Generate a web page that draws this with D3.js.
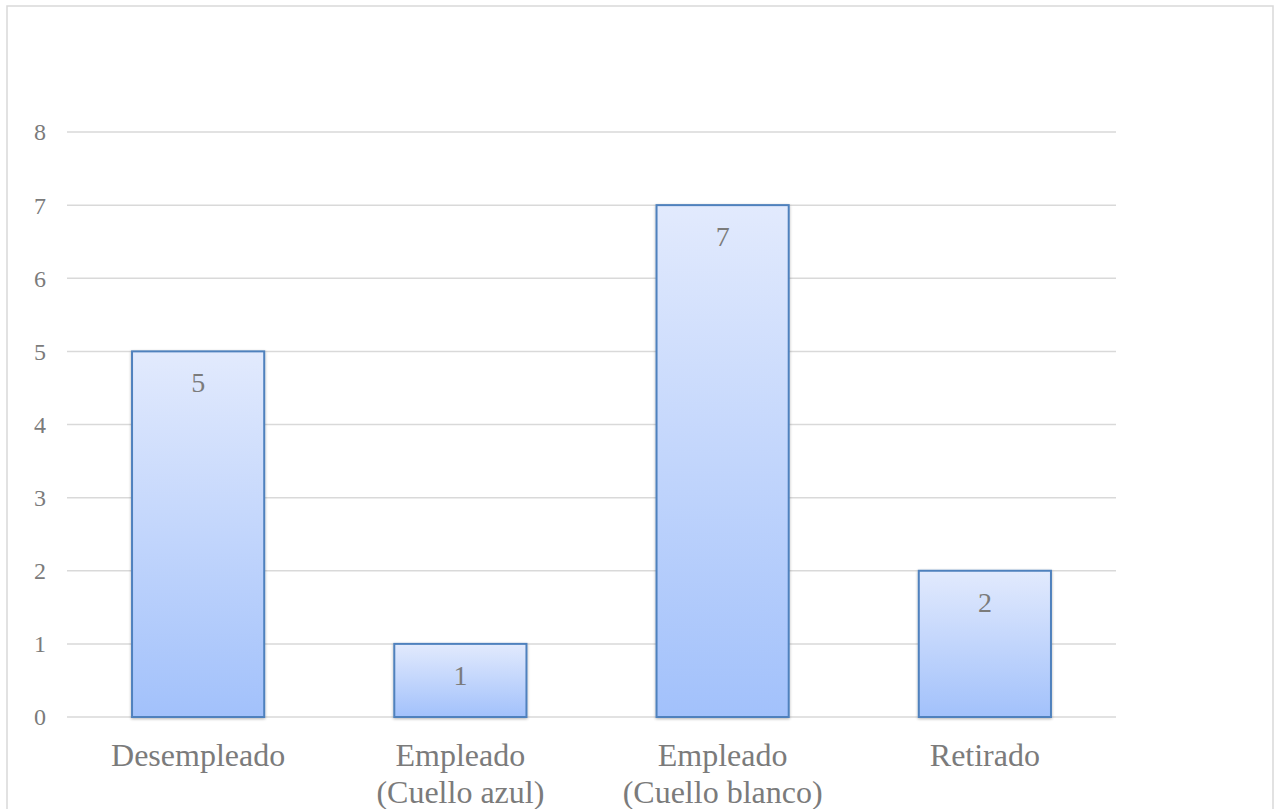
<!DOCTYPE html>
<html>
<head>
<meta charset="utf-8">
<script src="https://cdn.jsdelivr.net/npm/d3@7"></script>
<style>
  html, body { margin: 0; padding: 0; background: #fff; }
  svg { display: block; }
</style>
</head>
<body>
<svg id="chart" width="1274" height="809"></svg>
<script>
// Occupation categories (two-line labels) and counts
const categories = ["Desempleado", "Empleado\n(Cuello azul)", "Empleado\n(Cuello blanco)", "Retirado"];
const counts = [5, 1, 7, 2];
const yTicks = [0, 1, 2, 3, 4, 5, 6, 7, 8];

const FONT = "'Liberation Serif', 'Times New Roman', Times, serif";
const TEXT_COLOR = "#7b7b7b";

const svg = d3.select("#chart");
const plot = { left: 67, right: 1116, top: 132, bottom: 717 };

// Outer frame
svg.append("rect")
  .attr("x", 7).attr("y", 6)
  .attr("width", 1266).attr("height", 820)
  .attr("fill", "#fff")
  .attr("stroke", "#d9d9d9")
  .attr("stroke-width", 1.5);

const defs = svg.append("defs");
const grad = defs.append("linearGradient")
  .attr("id", "barFill").attr("x1", 0).attr("y1", 0).attr("x2", 0).attr("y2", 1);
grad.append("stop").attr("offset", "0%").attr("stop-color", "#e2eafd");
grad.append("stop").attr("offset", "100%").attr("stop-color", "#a2c1fb");

const shadow = defs.append("filter").attr("id", "barShadow")
  .attr("x", "-10%").attr("y", "-10%").attr("width", "120%").attr("height", "120%");
shadow.append("feGaussianBlur").attr("in", "SourceAlpha").attr("stdDeviation", 1.5).attr("result", "b");
shadow.append("feOffset").attr("in", "b").attr("dx", 0).attr("dy", 1).attr("result", "o");
shadow.append("feComponentTransfer").attr("in", "o").attr("result", "s")
  .append("feFuncA").attr("type", "linear").attr("slope", 0.3);
const merge = shadow.append("feMerge");
merge.append("feMergeNode").attr("in", "s");
merge.append("feMergeNode").attr("in", "SourceGraphic");

const x = d3.scaleBand()
  .domain(categories)
  .range([plot.left, plot.right])
  .paddingInner(0.496)
  .paddingOuter(0.248);

const y = d3.scaleLinear()
  .domain([0, 8])
  .range([plot.bottom, plot.top]);

// Horizontal gridlines
svg.append("g")
  .selectAll("line")
  .data(yTicks)
  .join("line")
  .attr("x1", plot.left).attr("x2", plot.right)
  .attr("y1", d => y(d)).attr("y2", d => y(d))
  .attr("stroke", "#d9d9d9")
  .attr("stroke-width", 1.5);

// Y tick labels
svg.append("g")
  .selectAll("text")
  .data(yTicks)
  .join("text")
  .attr("x", 40)
  .attr("y", d => y(d))
  .attr("dy", "0.35em")
  .attr("text-anchor", "middle")
  .attr("font-family", FONT)
  .attr("fill", TEXT_COLOR)
  .attr("font-size", 24)
  .text(d => d);

// Bars
svg.append("g")
  .selectAll("rect")
  .data(counts)
  .join("rect")
  .attr("x", (d, i) => x(categories[i]))
  .attr("y", d => y(d))
  .attr("width", x.bandwidth())
  .attr("height", d => y(0) - y(d))
  .attr("fill", "url(#barFill)")
  .attr("stroke", "#4f81bd")
  .attr("stroke-width", 2)
  .attr("filter", "url(#barShadow)");

// Value labels inside the top of each bar
svg.append("g")
  .selectAll("text")
  .data(counts)
  .join("text")
  .attr("x", (d, i) => x(categories[i]) + x.bandwidth() / 2)
  .attr("y", d => y(d) + 41)
  .attr("text-anchor", "middle")
  .attr("font-family", FONT)
  .attr("fill", TEXT_COLOR)
  .attr("font-size", 28)
  .text(d => d);

// Category labels
const cat = svg.append("g")
  .selectAll("text")
  .data(categories)
  .join("text")
  .attr("x", d => x(d) + x.bandwidth() / 2)
  .attr("y", 766)
  .attr("text-anchor", "middle")
  .attr("font-family", FONT)
  .attr("fill", TEXT_COLOR)
  .attr("font-size", 32);
cat.each(function(d) {
  const t = d3.select(this);
  d.split("\n").forEach((ln, k) => {
    t.append("tspan")
      .attr("x", t.attr("x"))
      .attr("dy", k === 0 ? 0 : 37)
      .text(ln);
  });
});
</script>
</body>
</html>
